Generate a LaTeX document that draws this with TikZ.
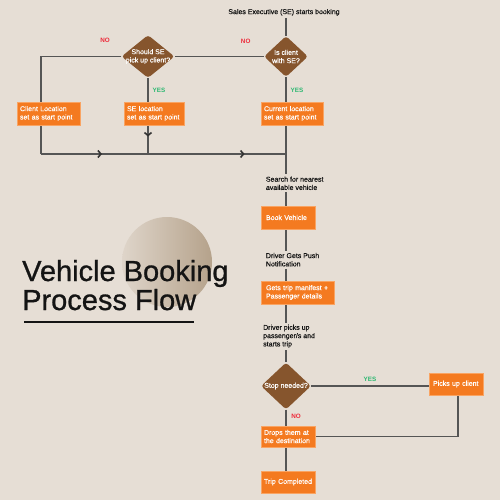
\documentclass[tikz,border=0pt]{standalone}
\usepackage{fontspec}
\setmainfont{Liberation Sans}
\newfontfamily\medf[FakeBold=0.5]{Liberation Sans}
\newfontfamily\ttlf[FakeBold=0.9]{Liberation Sans}
\usetikzlibrary{shapes.geometric,arrows.meta,decorations.markings,backgrounds}
\definecolor{bgc}{HTML}{E6DED5}
\definecolor{org}{HTML}{F47A20}
\definecolor{orgl}{HTML}{F9A463}
\definecolor{brn}{HTML}{86552D}
\definecolor{lnc}{HTML}{555555}
\definecolor{chc}{HTML}{333333}
\definecolor{grn}{HTML}{2EB872}
\definecolor{rdc}{HTML}{EE2A3A}
\definecolor{circR}{HTML}{B5A28B}
\definecolor{ttl}{HTML}{141414}
\tikzset{
  txt/.style={inner xsep=0pt, inner ysep=2pt, align=left, text=ttl, font=\medf\fontsize{7}{8.3}\selectfont},
  box/.style={fill=org, draw=orgl, line width=0.6pt, text=white, align=left, inner xsep=3pt, inner ysep=0pt, minimum height=23pt, font=\medf\fontsize{7}{8.3}\selectfont},
  dia/.style={diamond, fill=brn, rounded corners=3pt, inner sep=0pt},
  dtx/.style={text=white, align=center, inner sep=0pt, font=\medf\fontsize{7}{8.3}\selectfont},
  yeslbl/.style={text=grn, font=\fontsize{6.3}{7}\selectfont\bfseries, inner sep=0pt},
  nolbl/.style={text=rdc, font=\fontsize{6.3}{7}\selectfont\bfseries, inner sep=0pt},
  conn/.style={draw=lnc, line width=1.3pt},
  chev/.style={postaction={decorate}, decoration={markings, mark=at position #1 with {\arrow[chc]{Straight Barb[length=3pt,width=7pt,line width=1.6pt]}}}},
  titletx/.style={anchor=base west, inner sep=0pt, text=ttl, font=\ttlf\fontsize{29}{29}\selectfont}
}
\begin{document}
\begin{tikzpicture}[x=1pt, y=-1pt]
\useasboundingbox (0,0) rectangle (500,500);
\begin{scope}[on background layer]
\fill[bgc] (0,0) rectangle (500,500);
\shade[left color=bgc!85!circR, right color=circR] (167,262) circle (45);
\end{scope}
% title
\node[titletx] (title1) at (22,281) {Vehicle Booking};
\node[titletx] (title2) at (22,310) {Process Flow};
\draw[ttl, line width=2pt] (24,321.7) -- (194,321.7);
% nodes
\node[txt, align=center] (start) at (284,12.3) {Sales Executive (SE) starts booking};
\node[dia, minimum width=44pt, minimum height=41pt] (d2) at (286,56.5) {};
\node[dtx] (d2t) at (d2) {Is client\\with SE?};
\node[dia, minimum width=53pt, minimum height=43pt] (d1) at (148,56.5) {};
\node[dtx] (d1t) at (d1) {Should SE\\pick up client?};
\node[box, text width=57pt] (client) at (48.5,113.5) {Client Location\\set as start point};
\node[box, text width=54pt] (se) at (154,113.5) {SE location\\set as start point};
\node[box, text width=56pt] (cur) at (292,113.5) {Current location\\set as start point};
\node[txt, anchor=west] (search) at (265.7,183.3) {Search for nearest\\available vehicle};
\node[box, text width=48pt, inner xsep=3pt] (book) at (288,217.5) {\hspace*{2pt}Book Vehicle};
\node[txt, anchor=west] (push) at (265.7,259.7) {Driver Gets Push\\Notification};
\node[box, text width=67pt] (manifest) at (297.5,292.5) {\hspace*{2pt}Gets trip manifest +\\\hspace*{2pt}Passenger details};
\node[txt, anchor=west] (pickup) at (263,336.3) {Driver picks up\\passenger/s and\\starts trip};
\node[dia, minimum width=50pt, minimum height=47pt] (d3) at (286,386) {};
\node[dtx] (d3t) at (d3) {Stop needed?};
\node[box, text width=50pt, inner xsep=2pt, minimum height=22pt] (picks) at (456,384) {\hspace*{2pt}Picks up client};
\node[box, text width=50pt, inner xsep=2pt, minimum height=21pt] (drops) at (288,436.5) {\hspace*{1pt}Drops them at\\\hspace*{1pt}the destination};
\node[box, text width=50pt, inner xsep=2pt, minimum height=22pt] (trip) at (288,482) {\hspace*{1pt}Trip Completed};
% labels
\node[nolbl] (no1) at (105,40.7) {NO};
\node[nolbl] (no2) at (245.7,41) {NO};
\node[yeslbl] (yes1) at (159,90) {YES};
\node[yeslbl] (yes2) at (297,90) {YES};
\node[yeslbl] (yes3) at (370,379) {YES};
\node[nolbl] (no3) at (296,416) {NO};
% connectors
\coordinate (cl) at (41,154);
\coordinate (j1) at (148,154);
\coordinate (j2) at (286,154);
\coordinate (tk) at (286,0);
\coordinate (pk) at (458,0);
\begin{scope}[on background layer]
\draw[conn] (start.south -| d2) -- (d2.north);
\draw[conn] (d2.west) -- (d1.east);
\draw[conn] (d1.west) -| (cl);
\draw[conn, chev=0.57] (cl) -- (j1);
\draw[conn, chev=0.77] (d1.south) -- (j1);
\draw[conn, chev=0.70] (j1) -- (j2);
\draw[conn] (d2.south) -- (search.north -| tk);
\draw[conn] (search.south -| tk) -- (book.north -| tk);
\draw[conn] (book.south -| tk) -- (push.north -| tk);
\draw[conn] (push.south -| tk) -- (manifest.north -| tk);
\draw[conn] (manifest.south -| tk) -- (pickup.north -| tk);
\draw[conn] (pickup.south -| tk) -- (d3.north);
\draw[conn] (d3.east) -- (picks.west |- d3.east);
\draw[conn] (picks.south -| pk) |- (drops.east);
\draw[conn] (d3.south) -- (drops.north -| tk);
\draw[conn] (drops.south -| tk) -- (trip.north -| tk);
\end{scope}
\end{tikzpicture}
\end{document}
